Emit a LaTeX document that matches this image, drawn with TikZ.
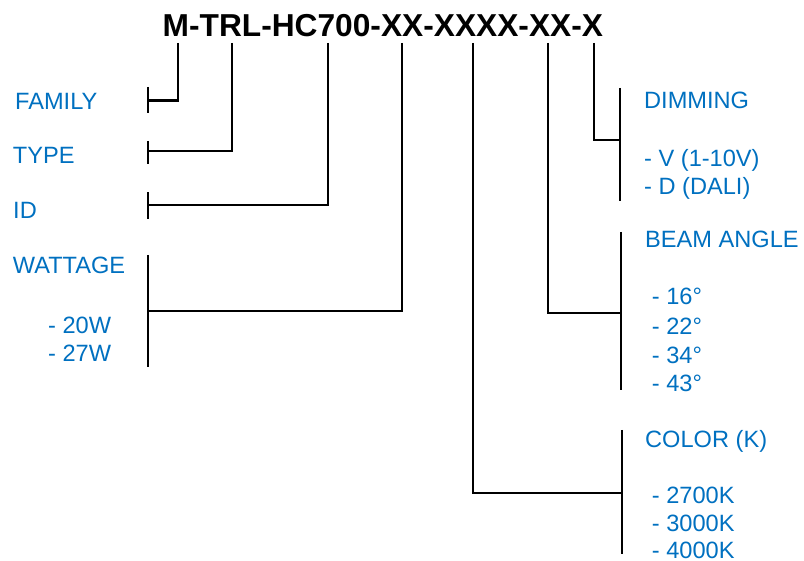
\documentclass[tikz,border=0pt]{standalone}
\usepackage{fontspec}
\setmainfont{Liberation Sans}
\definecolor{labelBlue}{RGB}{0,112,192}

\begin{document}
\begin{tikzpicture}
[x=1pt,y=-1pt,
 codeDecorate/.style={anchor=base west,inner sep=0pt,font=\fontsize{31.7}{36}\selectfont\bfseries},%
 labelDecorate/.style={anchor=base west,inner sep=0pt,text=labelBlue,font=\fontsize{23.6}{28}\selectfont},%
 lineDecorate/.style={-,line width=2.4pt}]
\useasboundingbox (0,0) rectangle (804,561);
%% product code
\node[codeDecorate] (code) at (162.5,36.7) {M-TRL-HC700-XX-XXXX-XX-X};
%% labels
\foreach \nodename/\x/\y/\txt in {family/15/109.3/FAMILY, type/12.7/163.3/TYPE,
  id/13/219/ID, watt/12.7/273.3/WATTAGE, wattA/48/333.3/- 20W, wattB/48/361.7/- 27W,
  dim/644/109/DIMMING, dimA/644/166.7/- V (1-10V), dimB/644/195/- D (DALI),
  beam/645/247.3/BEAM ANGLE, beamA/651.7/305/- 16°, beamB/651.7/334.3/- 22°,
  beamC/651.7/363.3/- 34°, beamD/651.7/391.7/- 43°,
  color/645/447.3/COLOR (K), colorA/651.7/503.3/- 2700K, colorB/651.7/531.7/- 3000K,
  colorC/651.7/558.3/- 4000K}
{
  \node[labelDecorate] (\nodename) at (\x,\y) {\txt};
}
%% taps under the code, joins and bar ends
\foreach \nodename/\x/\y in {famTap/178/43, typeTap/232/43, idTap/328/43, wattTap/402/43,
  colorTap/473/43, beamTap/548/43, dimTap/594/43,
  famJoin/148/100.7, typeJoin/148/151, idJoin/148/205, wattJoin/148/311,
  dimJoin/620/140, beamJoin/621/313, colorJoin/622/493,
  famTop/148/87, famBot/148/113, typeTop/148/141, typeBot/148/164,
  idTop/148/192.3, idBot/148/219, wattTop/148/255, wattBot/148/367,
  dimTop/620/88, dimBot/620/201, beamTop/621/232, beamBot/621/390,
  colorTop/622/430, colorBot/622/554}
{
  \coordinate (\nodename) at (\x,\y);
}
%% bars
\foreach \bar in {fam, type, id, watt, dim, beam, color}
{
  \draw[lineDecorate] (\bar Top) -- (\bar Bot);
}
%% connectors
\foreach \bar in {fam, type, id, watt, dim, beam, color}
{
  \draw[lineDecorate] (\bar Tap) |- (\bar Join);
}
\end{tikzpicture}
\end{document}
